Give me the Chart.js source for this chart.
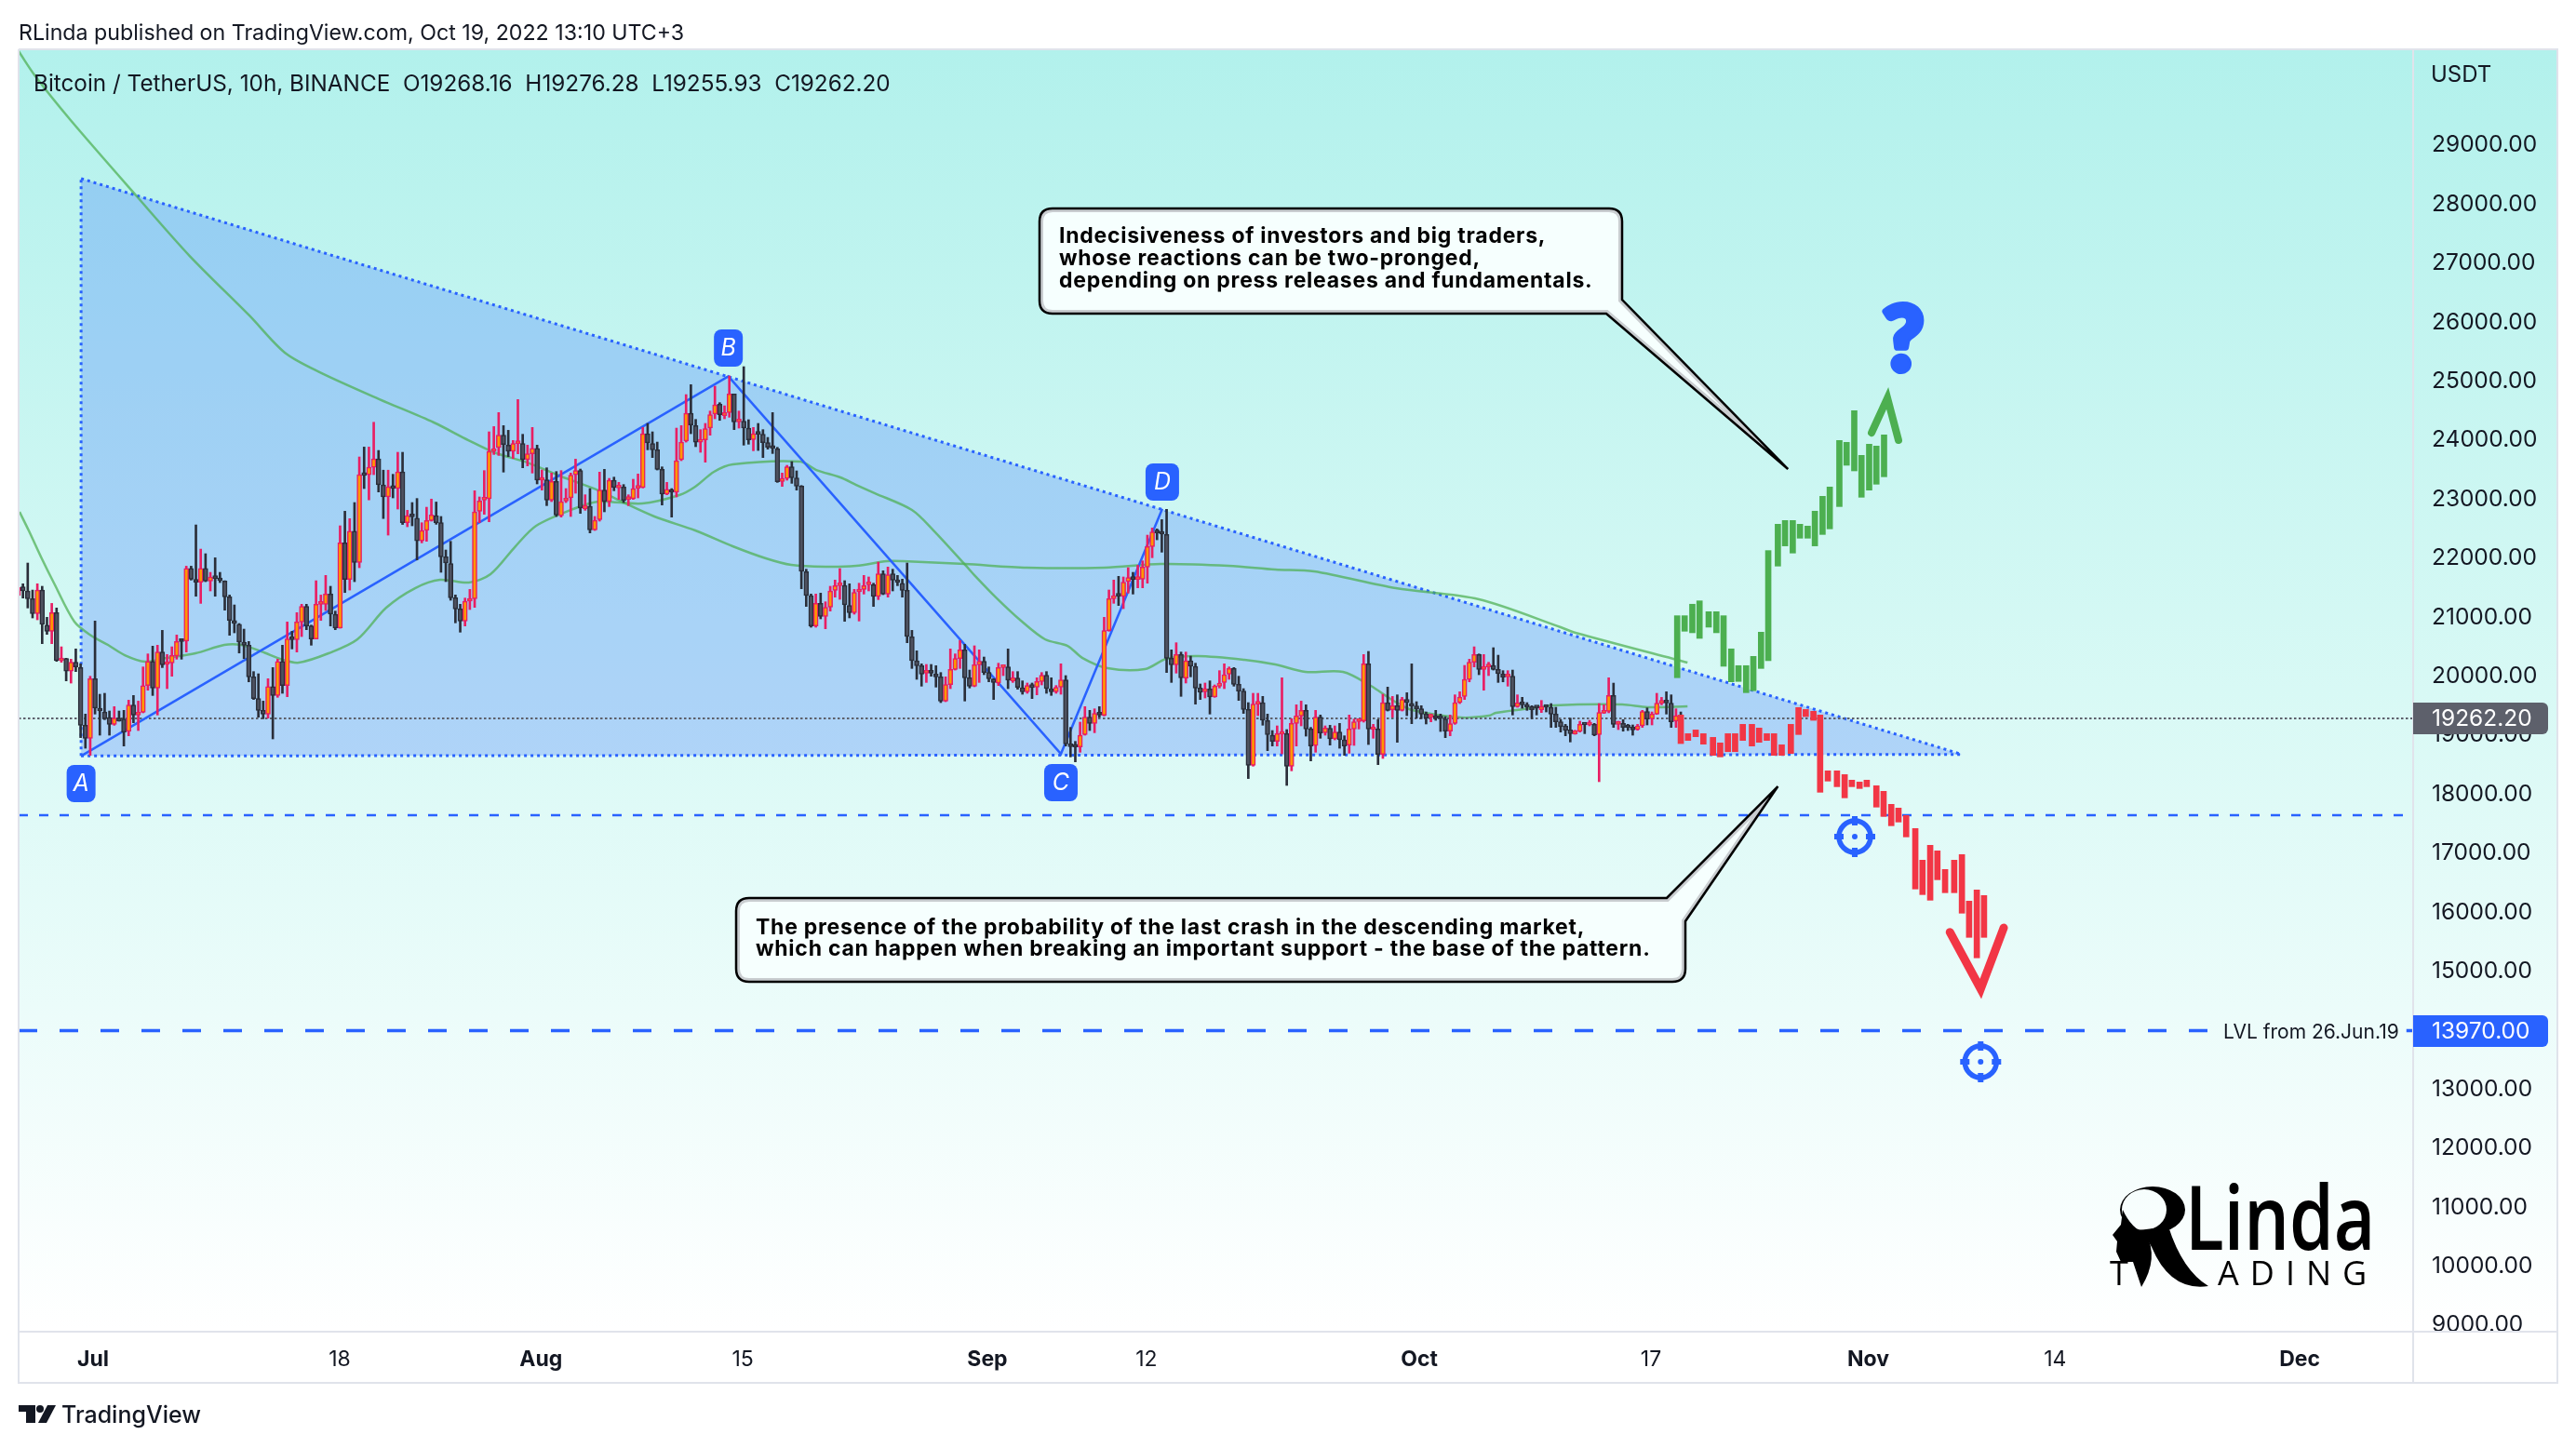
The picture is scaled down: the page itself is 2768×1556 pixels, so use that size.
<!DOCTYPE html>
<html><head><meta charset="utf-8">
<style>html,body{margin:0;padding:0;background:#fff}canvas{display:block}</style>
<script src="https://cdn.jsdelivr.net/npm/chart.js@4"></script>
</head><body><canvas id="c" width="2768" height="1556" style="width:2768px;height:1556px"></canvas>
<script>
// ---------- candles (10h bars) ----------
const opens=[21344,21491,21423,21291,21039,21438,20844,20739,21055,20240,20277,20066,20214,20124,19146,18926,19935,19436,19372,19278,19162,19267,19252,19041,19488,19320,19367,19819,20229,19777,20387,20177,20203,20319,20571,20571,21806,21617,21570,21806,21591,21644,21622,21591,21323,20923,20860,20555,20503,19967,19599,19399,19336,19803,19651,20229,19819,20608,20597,20897,21160,20829,20608,21197,21197,21370,21029,20792,22238,21617,22437,21906,
23394,23394,23520,23663,23221,23016,23190,23158,23441,22579,22700,22658,22274,22448,22616,22700,
22580,22001,21886,21307,21118,20913,21250,21292,22774,22963,22984,23789,23852,24062,23894,23789,23920,23920,23647,23747,23841,23300,23305,22963,23279,22700,22948,23000,23394,23463,22816,22858,22459,22632,23132,22937,23300,23168,23184,22974,22984,23163,23174,24088,23920,23815,23484,23063,23142,23095,23647,23962,24435,24225,23946,23983,24183,24420,24588,24393,24446,24761,24288,24299,24183,23988,24094,24078,23936,23857,23831,23279,23331,23526,23337,23200,21749,21344,20829,21213,20992,21150,21434,21513,21518,21176,21055,
21407,21449,21528,21528,21328,21712,21370,21712,21597,21554,21434,20645,20240,20156,20030,20040,20004,19967,19557,19835,20093,20277,20424,19951,19809,20172,20230,20040,19930,19862,20125,20135,19899,19946,19783,19715,19835,19793,19888,19993,19762,19715,19793,19914,18810,18784,18778,18989,19283,19178,19346,19315,20750,21292,21344,21328,21581,21649,21618,21623,21828,22175,22422,22406,22380,20282,20172,20345,19946,20240,20146,19778,19715,19762,19625,19809,19872,20014,20109,19841,19725,19415,18469,19504,19530,19226,18979,
18873,18994,19004,18452,19178,19304,19399,19083,18804,19283,19020,19094,18915,19031,18899,18810,19083,19210,19220,20187,19073,19083,18652,19530,19409,19478,19399,19583,19514,19472,19425,19336,19283,19304,19273,19252,19046,19178,19530,19635,19924,20214,20345,20093,20135,20161,20093,20014,19966,19977,19462,19525,19493,19462,19451,19409,19467,19451,19336,19204,19136,19068,19000,19041,19162,19152,19162,18989,19351,19383,19651,19162,19178,19120,19110,19073,19136,19378,19257,19336,19520,19546,19520,19215,19268];
const highs=[21502,21544,21896,21438,21544,21502,20976,21212,21134,20476,20282,20266,20440,20187,19336,19977,20913,19672,19688,19388,19462,19388,19399,19572,19651,19556,20135,20356,20487,20503,20755,20345,20476,20676,20608,21843,21843,22542,22132,22054,21738,21985,21738,21596,21354,21186,20871,20776,20566,20056,20019,19556,19935,20124,20266,20503,20897,20739,21055,21197,21197,20844,21596,21354,21686,21502,21081,22527,22774,22648,22921,23694,
23862,23862,24282,23804,23470,23470,23400,23773,23773,22790,22921,22990,22579,22842,22980,22930,
22685,22117,22264,21355,21197,21302,21449,23121,23016,23463,24120,24209,24446,24225,24146,23973,24667,24078,23894,24194,23894,23473,23510,23421,23447,23463,23158,23421,23657,23489,23053,23158,22685,23437,23484,23331,23352,23263,23226,23053,23316,23405,24194,24262,24120,23946,23526,23263,23158,24183,24225,24751,24919,24330,24157,24262,24472,24893,24614,24561,25066,24761,24472,25224,24325,24194,24262,24157,24025,24446,23857,23421,23552,23615,23458,23210,21791,21371,21371,21386,21239,21502,21607,21802,21597,21544,21450,
21554,21686,21660,21554,21912,21765,21828,21791,21686,21623,21896,20755,20408,20188,20177,20177,20156,20040,19967,20440,20356,20582,20519,20082,20493,20424,20303,20135,19935,20198,20146,20440,20056,20056,19899,19862,19862,19951,20040,20056,19951,19820,20188,19988,19110,18873,19199,19462,19399,19425,19462,20976,21439,21607,21670,21660,21817,21738,21859,21933,22369,22490,22474,22632,22806,20424,20545,20387,20387,20319,20198,19846,19862,19899,19830,20072,20188,20135,20125,19977,19767,19530,19688,19688,19636,19336,19057,
19136,19951,19073,19257,19493,19556,19493,19110,19399,19320,19136,19146,19136,19178,18968,19320,19251,19241,20345,20398,19162,19241,19672,19793,19635,19662,19620,19698,20187,19546,19478,19372,19336,19399,19336,19294,19320,19662,19714,20161,20266,20476,20355,20345,20214,20461,20334,20072,20072,20082,19662,19620,19530,19478,19462,19567,19493,19514,19451,19241,19162,19267,19062,19215,19168,19230,19178,19514,19493,19951,19861,19215,19241,19162,19152,19162,19399,19441,19372,19688,19619,19714,19662,19425,19372];
const lows=[21212,21302,21134,20965,20934,20529,20687,20529,20229,20214,19898,19861,20056,18936,18757,18637,19336,18978,19241,18978,19146,19215,18794,18968,19189,19057,19357,19740,19651,19320,20124,19767,19977,20266,20266,20387,21607,21333,21212,21580,21423,21333,21565,21097,20671,20713,20371,20277,19882,19583,19283,19257,19267,18915,19620,19688,19630,20440,20387,20650,20766,20503,20608,20923,21092,20829,20766,20792,21396,21438,21580,21817,
23158,22966,23394,23100,22650,22369,23000,22811,22550,22511,22527,21948,22238,22264,22606,22553,
21739,21581,21265,20882,20724,20829,21108,21144,22580,22722,22595,23736,23720,23437,23699,23668,23747,23510,23542,23421,23237,23132,22869,22937,22685,22674,22921,22685,23079,22737,22790,22406,22448,22606,22764,22853,23121,22974,22921,22869,22974,23000,23168,23815,23684,23473,22879,23053,22674,23016,23631,23946,24088,23868,23773,23605,24062,24341,24314,24341,24367,24157,24183,23894,23910,23799,23804,23684,23826,23752,23263,23195,23300,23247,23132,21460,21160,20808,20808,20950,20782,21081,21318,21281,20908,20966,21029,
20913,21370,21423,21160,21276,21360,21318,21423,21512,21318,20545,20109,19925,19809,19872,19977,19793,19530,19546,19767,20082,20109,19557,19778,19799,19872,20004,19883,19583,19820,19988,19767,19872,19757,19672,19688,19599,19662,19830,19688,19652,19688,19672,18794,18610,18526,18689,18978,19057,19020,19283,19304,20740,21213,21176,21123,21386,21370,21476,21476,21554,21986,22290,22080,20040,19872,20030,19636,19862,19967,19504,19583,19609,19336,19620,19778,19767,19925,19809,19567,19347,18243,18453,19310,19147,18716,18795,
18794,18663,18127,18374,18794,19136,18962,18542,18689,18926,18978,18810,18899,18757,18636,18673,18805,19083,19199,18820,18926,18479,18584,19388,19283,18857,19388,19309,19173,19267,19257,19168,19204,19230,19041,18936,18968,19162,19514,19583,19882,20135,20003,19740,19988,20082,19872,19882,19809,19320,19451,19435,19399,19257,19320,19362,19372,19110,19110,19031,18968,18863,18994,19031,19004,19136,18968,18190,19346,19357,19110,19073,19046,19057,18978,19062,19110,19152,19152,19330,19493,19336,19110,19110,19150];
const closes=[21480,21423,21291,21039,21438,20855,20739,21055,20240,20277,20066,20214,20135,19146,18926,19935,19436,19388,19257,19162,19267,19215,19031,19488,19320,19367,19819,20229,19777,20387,20172,20208,20329,20566,20566,21806,21622,21570,21806,21591,21659,21633,21596,21323,20923,20871,20555,20503,19967,19599,19399,19336,19803,19651,20229,19819,20608,20597,20897,21160,20829,20608,21197,21197,21370,21029,20792,22238,21617,22437,21906,23394,
23380,23520,23663,23221,23016,23190,23160,23441,22579,22700,22680,22274,22448,22616,22711,22579,
22001,21896,21307,21118,20913,21250,21281,22764,22948,22974,23789,23831,24062,23904,23789,23920,23931,23647,23747,23841,23300,23305,22963,23279,22711,22937,22990,23384,23463,22827,22869,22459,22622,23132,22937,23300,23174,23184,22958,22984,23158,23174,24088,23931,23815,23484,23063,23147,23095,23631,23946,24435,24236,23946,23983,24173,24409,24577,24409,24446,24761,24288,24299,24183,23983,24088,24078,23936,23857,23841,23274,23331,23526,23342,23200,21754,21344,20829,21213,20992,21145,21423,21513,21518,21186,21055,21397,
21434,21512,21544,21328,21712,21370,21696,21607,21565,21434,20650,20240,20156,20014,20051,20030,19967,19557,19835,20093,20277,20424,19951,19809,20172,20230,20040,19935,19872,20125,20135,19909,19951,19788,19715,19820,19783,19888,19993,19767,19715,19788,19914,18831,18784,18778,18978,19283,19178,19346,19320,20750,21292,21344,21334,21570,21649,21618,21623,21828,22175,22422,22406,22385,20282,20172,20345,19951,20240,20146,19778,19704,19767,19625,19809,19862,20004,20109,19841,19725,19415,18469,19504,19530,19231,18989,18873,
19004,19004,18452,19178,19304,19399,19083,18794,19283,19015,19099,18915,19031,18899,18794,19083,19204,19220,20187,19083,19083,18652,19530,19399,19478,19399,19583,19530,19472,19425,19336,19267,19304,19262,19262,19046,19173,19530,19625,19924,20214,20345,20093,20108,20145,20093,20019,19961,19982,19462,19525,19493,19451,19409,19441,19462,19451,19336,19204,19120,19057,19004,19052,19162,19152,19162,18978,19362,19362,19651,19162,19178,19110,19104,19068,19136,19378,19251,19336,19520,19556,19525,19204,19309,19262];

// ---------- moving averages ----------
const maLongIdx=[0.1,3.6,10.9,24.7,35.7,48.1,55.5,62.8,75.2,86.5,93.7,99.5,106,113,120.8,126,132.4,140.9,148.7,155.6,160.9,168,174.4,180.8,184.1,197,209.9,226.1,237.8,251.9,261.6,269.7,286.7,304,321,324.1,347.4];
const maLongPrice=[30571,30145,29404,28111,27101,26092,25461,25129,24672,24278,23978,23757,23599,23363,23126,22921,22685,22448,22180,21975,21864,21833,21849,21928,21928,21880,21817,21817,21880,21849,21786,21754,21470,21281,20808,20713,20208];
const maMidIdx=[0.3,2.2,4.9,7.5,11.7,15.2,18.7,22.2,26.4,30.9,36.9,42.9,46.4,50.6,55.1,58.4,64.6,70.6,76.6,82.6,87.8,93.8,98.3,103.5,107.8,115.5,120.8,129.9,137.6,140.9,144.8,148.7,162.8,166.1,171.1,174.4,178.3,186,190.5,197.1,199,203.5,208.7,213.7,218.4,221.5,226.7,234.5,238.9,245.5,255.2,261.6,267.9,275.7,281.5,286.2,290.1,300.3,306.1,307.5,313.3,319.7,333.8,339.1,347.4];
const maMidPrice=[22763,22448,21975,21549,20902,20666,20508,20334,20224,20287,20366,20508,20508,20398,20256,20208,20366,20603,21139,21470,21612,21565,21707,22180,22527,22811,22937,22905,23047,23189,23442,23568,23615,23473,23347,23221,23079,22795,22448,21864,21691,21312,20918,20603,20492,20287,20114,20098,20271,20319,20256,20177,20051,20051,19814,19562,19404,19278,19309,19357,19420,19483,19498,19451,19467];

// ---------- projected bars ----------
const upIdx=[345.25,346.8,348.4,349.9,351.8,353.4,354.9,356.5,358,359.6,361.1,362.7,364.2,366.2,367.7,369.3,370.8,372.4,373.9,375.5,377,379,380.5,382.1,383.6,385.2,386.7,388.3];
const upLow=[19952,20740,20714,20619,20809,20714,20146,19883,19889,19699,19731,20109,20241,21844,22186,22065,22317,22317,22186,22380,22475,22853,23553,23458,23011,23132,23232,23358];
const upHigh=[21003,21003,21198,21255,21071,21071,21003,20441,20157,20157,20314,20724,22107,22554,22617,22617,22554,22522,22775,23027,23185,23973,23942,24478,23721,23910,23879,24068];
const downIdx=[346,347.5,349.1,350.7,352.7,354.2,355.8,357.3,358.9,360.8,362.3,363.9,365.4,367,368.9,370.5,372,373.6,375,376.6,378.5,380.1,381.6,383.2,384.7,386.7,388.2,389.8,391.3,392.9,394.8,396.3,397.9,399.4,401,402.9,404.5,406,407.6,409.1];
const downLow=[18836,18889,18952,18826,18636,18610,18699,18699,18889,18794,18857,18889,18636,18636,18668,18989,19293,19230,18011,18200,18105,17916,18105,18074,18105,17759,17601,17443,17506,17254,16371,16276,16181,16528,16308,16308,15961,15551,15204,15551];
const downHigh=[19320,19004,19067,19004,18941,18847,19004,19004,19162,19162,19099,19004,19004,18815,19162,19446,19414,19383,19320,18374,18374,18310,18216,18184,18216,18121,18027,17806,17743,17617,17396,16860,17112,17017,16702,16860,16954,16166,16355,16260];

// ---------- drawings ----------
const triangleTopIdx=[13.1,404.5], triangleTopPrice=[28413,18652];
const triangleBaseIdx=[13.1,404.5], triangleBasePrice=[18626,18652];
const triangleSideIdx=[13.1,13.1], triangleSidePrice=[18626,28413];
const abcdIdx=[13.1,147.8,217,238.1], abcdPrice=[18626,25061,18662,22816];
const abcdLabels=['A','B','C','D'];
const lastPrice=19262.2, supportLevel=17621, oldLevel=13970;
const arrowUpIdx=[385.7,389,391.3], arrowUpPrice=[24104,24690,23978];
const arrowDownIdx=[402,408.4,413.2], arrowDownPrice=[15639,14677,15713];
const targetIdx=[382.2,408.4], targetPrice=[17259,13442];
const calloutTipIdx=[368.3,366.2], calloutTipPrice=[23489,18110];
const calloutTop=['Indecisiveness of investors and big traders,','whose reactions can be two-pronged,','depending on press releases and fundamentals.'];
const calloutBottom=['The presence of the probability of the last crash in the descending market,','which can happen when breaking an important support - the base of the pattern.'];

// ---------- axes ----------
const priceTicks=[9000,10000,11000,12000,13000,14000,15000,16000,17000,18000,19000,20000,21000,22000,23000,24000,25000,26000,27000,28000,29000];
const timeTickIdx=[15.6,66.9,108.8,150.8,201.7,234.8,291.6,339.8,385,423.9,474.8];
const timeTickLabels=['Jul','18','Aug','15','Sep','12','Oct','17','Nov','14','Dec'];
const monthLabels=['Jul','Aug','Sep','Oct','Nov','Dec'];

const FONT='Inter, "Noto Sans", sans-serif', INK='#131722', BLUE='#2962FF', RED='#F23645', GREEN='#4CAF50', PINK='#E91E63', DARK='#2A2E39';
const xy=(xs,ys)=>xs.map((x,i)=>({x,y:ys[i]}));
const seq=opens.map((_,i)=>i);
const isUp=opens.map((o,i)=>closes[i]>=o);

const dotted={type:'line',pointRadius:0,borderColor:BLUE,borderWidth:3,borderDash:[3,4],tension:0,order:10};
const datasets=[
 {...dotted,label:'triangle top',data:xy(triangleTopIdx,triangleTopPrice),fill:'+1',backgroundColor:'rgba(41,98,255,0.25)'},
 {...dotted,label:'triangle base',data:xy(triangleBaseIdx,triangleBasePrice),fill:false},
 {...dotted,label:'triangle side',data:xy(triangleSideIdx,triangleSidePrice),fill:false},
 {type:'line',label:'MA long',data:xy(maLongIdx,maLongPrice),pointRadius:0,borderColor:'rgba(76,175,80,0.72)',borderWidth:2.5,tension:0.3,fill:false,order:9},
 {type:'line',label:'MA mid',data:xy(maMidIdx,maMidPrice),pointRadius:0,borderColor:'rgba(76,175,80,0.72)',borderWidth:2.5,tension:0.3,fill:false,order:9},
 {type:'line',label:'last',data:xy([0.1,498.4],[lastPrice,lastPrice]),pointRadius:0,borderColor:'#5D606B',borderWidth:2,borderDash:[2.5,2.5],fill:false,order:8},
 {type:'line',label:'ABCD',data:xy(abcdIdx,abcdPrice),pointRadius:0,borderColor:BLUE,borderWidth:2.5,tension:0,fill:false,order:7},
 {type:'line',label:'support',data:xy([0.1,498.4],[supportLevel,supportLevel]),pointRadius:0,borderColor:BLUE,borderWidth:2.5,borderDash:[10,12],fill:false,order:7},
 {type:'line',label:'level',data:[{x:0.1,y:oldLevel},{x:456,y:oldLevel},{x:456.1,y:null},{x:497,y:null},{x:497,y:oldLevel},{x:498.4,y:oldLevel}],pointRadius:0,borderColor:BLUE,borderWidth:3.5,borderDash:[20,24],spanGaps:false,fill:false,order:7},
 {type:'bar',label:'wicks',data:seq.map(i=>({x:i,y:[lows[i],highs[i]]})),backgroundColor:isUp.map(u=>u?PINK:DARK),borderWidth:0,barThickness:2,grouped:false,order:5},
 {type:'bar',label:'bodies',data:seq.map(i=>({x:i,y:[Math.min(opens[i],closes[i]),Math.max(opens[i],closes[i])]})),backgroundColor:isUp.map(u=>u?'#FF9800':'#4E5260'),borderColor:isUp.map(u=>u?PINK:DARK),borderWidth:1.5,borderSkipped:false,barThickness:5,minBarLength:3,grouped:false,order:4},
 {type:'bar',label:'up path',data:upIdx.map((x,i)=>({x,y:[upLow[i],upHigh[i]]})),backgroundColor:GREEN,borderWidth:0,barThickness:6,grouped:false,order:3},
 {type:'bar',label:'down path',data:downIdx.map((x,i)=>({x,y:[downLow[i],downHigh[i]]})),backgroundColor:RED,borderWidth:0,barThickness:6,grouped:false,order:3},
 {type:'line',label:'arrow up',data:xy(arrowUpIdx,arrowUpPrice),pointRadius:0,borderColor:GREEN,borderWidth:8,borderCapStyle:'round',borderJoinStyle:'miter',fill:false,order:2},
 {type:'line',label:'arrow down',data:xy(arrowDownIdx,arrowDownPrice),pointRadius:0,borderColor:RED,borderWidth:9,borderCapStyle:'round',borderJoinStyle:'miter',fill:false,order:2}
];

function rr(ctx,x,y,w,h,r){ctx.beginPath();ctx.roundRect(x,y,w,h,r);}
function txt(ctx,s,x,y,font,color,align,base){ctx.font=font;ctx.fillStyle=color;ctx.textAlign=align||'left';ctx.textBaseline=base||'middle';ctx.fillText(s,x,y);}
function callout(ctx,b,tip,base1,base2,lines,tx,ty,lh){
  const r=14,p=new Path2D();
  p.moveTo(b.x+r,b.y);
  if(base1.side==='top'){p.lineTo(base1.x,b.y);p.lineTo(tip.x,tip.y);p.lineTo(b.x+b.w,base2.y);}
  else{p.lineTo(b.x+b.w-r,b.y);p.quadraticCurveTo(b.x+b.w,b.y,b.x+b.w,b.y+r);}
  if(base1.side==='right'){p.lineTo(b.x+b.w,base1.y);p.lineTo(tip.x,tip.y);p.lineTo(base2.x,b.y+b.h);}
  else{p.lineTo(b.x+b.w,b.y+b.h-r);p.quadraticCurveTo(b.x+b.w,b.y+b.h,b.x+b.w-r,b.y+b.h);}
  p.lineTo(b.x+r,b.y+b.h);p.quadraticCurveTo(b.x,b.y+b.h,b.x,b.y+b.h-r);
  p.lineTo(b.x,b.y+r);p.quadraticCurveTo(b.x,b.y,b.x+r,b.y);p.closePath();
  ctx.save();ctx.fillStyle='#F6FFFE';ctx.fill(p);
  ctx.save();ctx.clip(p);ctx.strokeStyle='#C9CDD0';ctx.lineWidth=8;ctx.stroke(p);ctx.restore();
  ctx.strokeStyle='#000';ctx.lineWidth=2.5;ctx.lineJoin='miter';ctx.stroke(p);ctx.restore();
  ctx.save();ctx.letterSpacing='0.75px';
  lines.forEach((l,i)=>txt(ctx,l,tx,ty+i*lh,'700 23px '+FONT,'#000'));
  ctx.restore();
}
const paperPlugin={id:'paper',
 beforeDraw(chart){const c=chart.ctx;c.save();c.fillStyle='#fff';c.fillRect(0,0,2768,1556);
  const g=c.createLinearGradient(0,53,0,1431);g.addColorStop(0,'#B2F1EC');g.addColorStop(0.5,'#D8F9F5');g.addColorStop(1,'#FFFFFF');
  c.fillStyle=g;c.fillRect(20,53,2728,1378);c.restore();},
 beforeDatasetsDraw(chart){const c=chart.ctx;c.save();c.fillStyle='#fff';c.fillRect(2595,1432,152,8);c.restore();},
 afterDraw(chart){
  const c=chart.ctx,X=chart.scales.x,Y=chart.scales.y;
  const px=i=>X.getPixelForValue(i),py=p=>Y.getPixelForValue(p);
  c.save();
  // frame
  c.strokeStyle='#E0E3EB';c.lineWidth=2;
  c.beginPath();c.moveTo(20,53);c.lineTo(20,1486);c.lineTo(2748,1486);c.lineTo(2748,53);c.lineTo(20,53);
  c.moveTo(20,1431);c.lineTo(2748,1431);c.moveTo(2593,53);c.lineTo(2593,1486);c.stroke();
  // header and legend
  txt(c,'RLinda published on TradingView.com, Oct 19, 2022 13:10 UTC+3',20,36,'400 23.2px '+FONT,INK);
  txt(c,'Bitcoin / TetherUS, 10h, BINANCE  O19268.16  H19276.28  L19255.93  C19262.20',36,90.5,'400 24.3px '+FONT,INK);
  txt(c,'USDT',2612,81,'400 24px '+FONT,INK);
  // footer logo
  c.fillStyle=INK;c.fillRect(20,1510,18,7);c.fillRect(28,1510,10,19);
  c.beginPath();c.arc(43,1514,4,0,Math.PI*2);c.fill();
  c.beginPath();c.moveTo(51,1510);c.lineTo(60,1510);c.lineTo(50,1529);c.lineTo(41,1529);c.closePath();c.fill();
  txt(c,'TradingView',66,1521,'500 25px '+FONT,INK);
  // price tags
  c.fillStyle='#5D606B';rr(c,2593,755,145,34,[0,6,6,0]);c.fill();
  txt(c,lastPrice.toFixed(2),2613,773,'400 24.5px '+FONT,'#fff');
  c.fillStyle=BLUE;rr(c,2593,1091,145,34,[0,6,6,0]);c.fill();
  txt(c,oldLevel.toFixed(2),2613,1109,'400 24.5px '+FONT,'#fff');
  txt(c,'LVL from 26.Jun.19',2389,1110,'400 21px '+FONT,INK);
  // badges
  const by=[842,374,841,518],bw=[31,31,36,36];
  abcdLabels.forEach((s,i)=>{const cx=px(abcdIdx[i]);c.fillStyle=BLUE;rr(c,cx-bw[i]/2,by[i]-20,bw[i],40,8);c.fill();
   txt(c,s,cx,by[i],'italic 400 25px '+FONT,'#fff','center');});
  // targets
  targetIdx.forEach((t,i)=>{const x=px(t),y=py(targetPrice[i]);c.strokeStyle=BLUE;c.fillStyle=BLUE;c.lineWidth=5.5;
   c.beginPath();c.arc(x,y,17,0,Math.PI*2);c.stroke();
   c.lineWidth=6;c.beginPath();[[1,0],[-1,0],[0,1],[0,-1]].forEach(d=>{c.moveTo(x+d[0]*12,y+d[1]*12);c.lineTo(x+d[0]*22,y+d[1]*22);});c.stroke();
   c.beginPath();c.arc(x,y,3,0,Math.PI*2);c.fill();});
  // question mark
  c.save();c.strokeStyle=BLUE;c.lineWidth=7;c.lineJoin='round';c.font='900 96px Lato, '+FONT;c.textAlign='center';c.textBaseline='middle';
  c.strokeText('?',2045,367);c.fillStyle=BLUE;c.fillText('?',2045,367);c.restore();
  // callouts
  callout(c,{x:1117,y:224,w:626,h:113},{x:px(calloutTipIdx[0]),y:py(calloutTipPrice[0])},{side:'right',y:322},{x:1726},calloutTop,1138,254,24);
  callout(c,{x:791,y:965,w:1020,h:90},{x:px(calloutTipIdx[1]),y:py(calloutTipPrice[1])},{side:'top',x:1791},{y:990},calloutBottom,812,997,23);
  // RLinda logo
  c.fillStyle='#000';
  c.beginPath();c.ellipse(2313,1300,35,25,0,0,Math.PI*2);c.ellipse(2304,1300,24,22,0,0,Math.PI*2,true);c.fill('evenodd');
  c.beginPath();c.moveTo(2298,1322);c.lineTo(2330,1318);c.quadraticCurveTo(2345,1365,2373,1382);c.quadraticCurveTo(2332,1388,2312,1340);c.quadraticCurveTo(2306,1328,2298,1322);c.closePath();c.fill();
  c.beginPath();c.moveTo(2281,1300);c.lineTo(2279,1316);c.lineTo(2270,1327);c.lineTo(2275,1334);c.lineTo(2274,1345);c.lineTo(2279,1356);c.lineTo(2292,1356);c.lineTo(2301,1383);c.quadraticCurveTo(2320,1352,2306,1326);c.quadraticCurveTo(2290,1320,2281,1300);c.closePath();c.fill();
  c.save();c.translate(2348,1343);c.scale(0.8,1);txt(c,'Linda',0,0,'600 96px "Open Sans"','#000','left','alphabetic');c.restore();
  txt(c,'T',2267,1381,'400 36px "Open Sans"','#000','left','alphabetic');
  c.save();c.letterSpacing='12px';txt(c,'ADING',2383,1381,'400 36px "Open Sans"','#000','left','alphabetic');c.restore();
  c.restore();
 }};

new Chart(document.getElementById('c'),{
 type:'bar',
 data:{datasets},
 plugins:[paperPlugin],
 options:{responsive:false,devicePixelRatio:1,animation:false,
  layout:{autoPadding:false,padding:{left:20,top:53,right:20,bottom:70}},
  plugins:{legend:{display:false},tooltip:{enabled:false},title:{display:false}},
  scales:{
   x:{type:'linear',offset:false,min:0.1,max:498.4,grid:{display:false,drawTicks:false},border:{display:false},
      afterFit(s){s.height=55;},
      afterBuildTicks(s){s.ticks=timeTickIdx.map(v=>({value:v}));},
      ticks:{autoSkip:false,maxRotation:0,padding:16,color:INK,
        font:ctx=>({family:FONT,size:23,weight:ctx.tick&&monthLabels.includes(timeTickLabels[timeTickIdx.indexOf(ctx.tick.value)])?'700':'400'}),
        callback:v=>timeTickLabels[timeTickIdx.indexOf(v)]}},
   y:{type:'linear',position:'right',min:8868,max:30603,grid:{display:false,drawTicks:false},border:{display:false},
      afterFit(s){s.width=155;},
      afterBuildTicks(s){s.ticks=priceTicks.map(v=>({value:v}));},
      ticks:{autoSkip:false,padding:20,labelOffset:1.5,crossAlign:'near',color:INK,font:{family:FONT,size:24.5},callback:v=>v.toFixed(2)}}
  }}
});
</script></body></html>
